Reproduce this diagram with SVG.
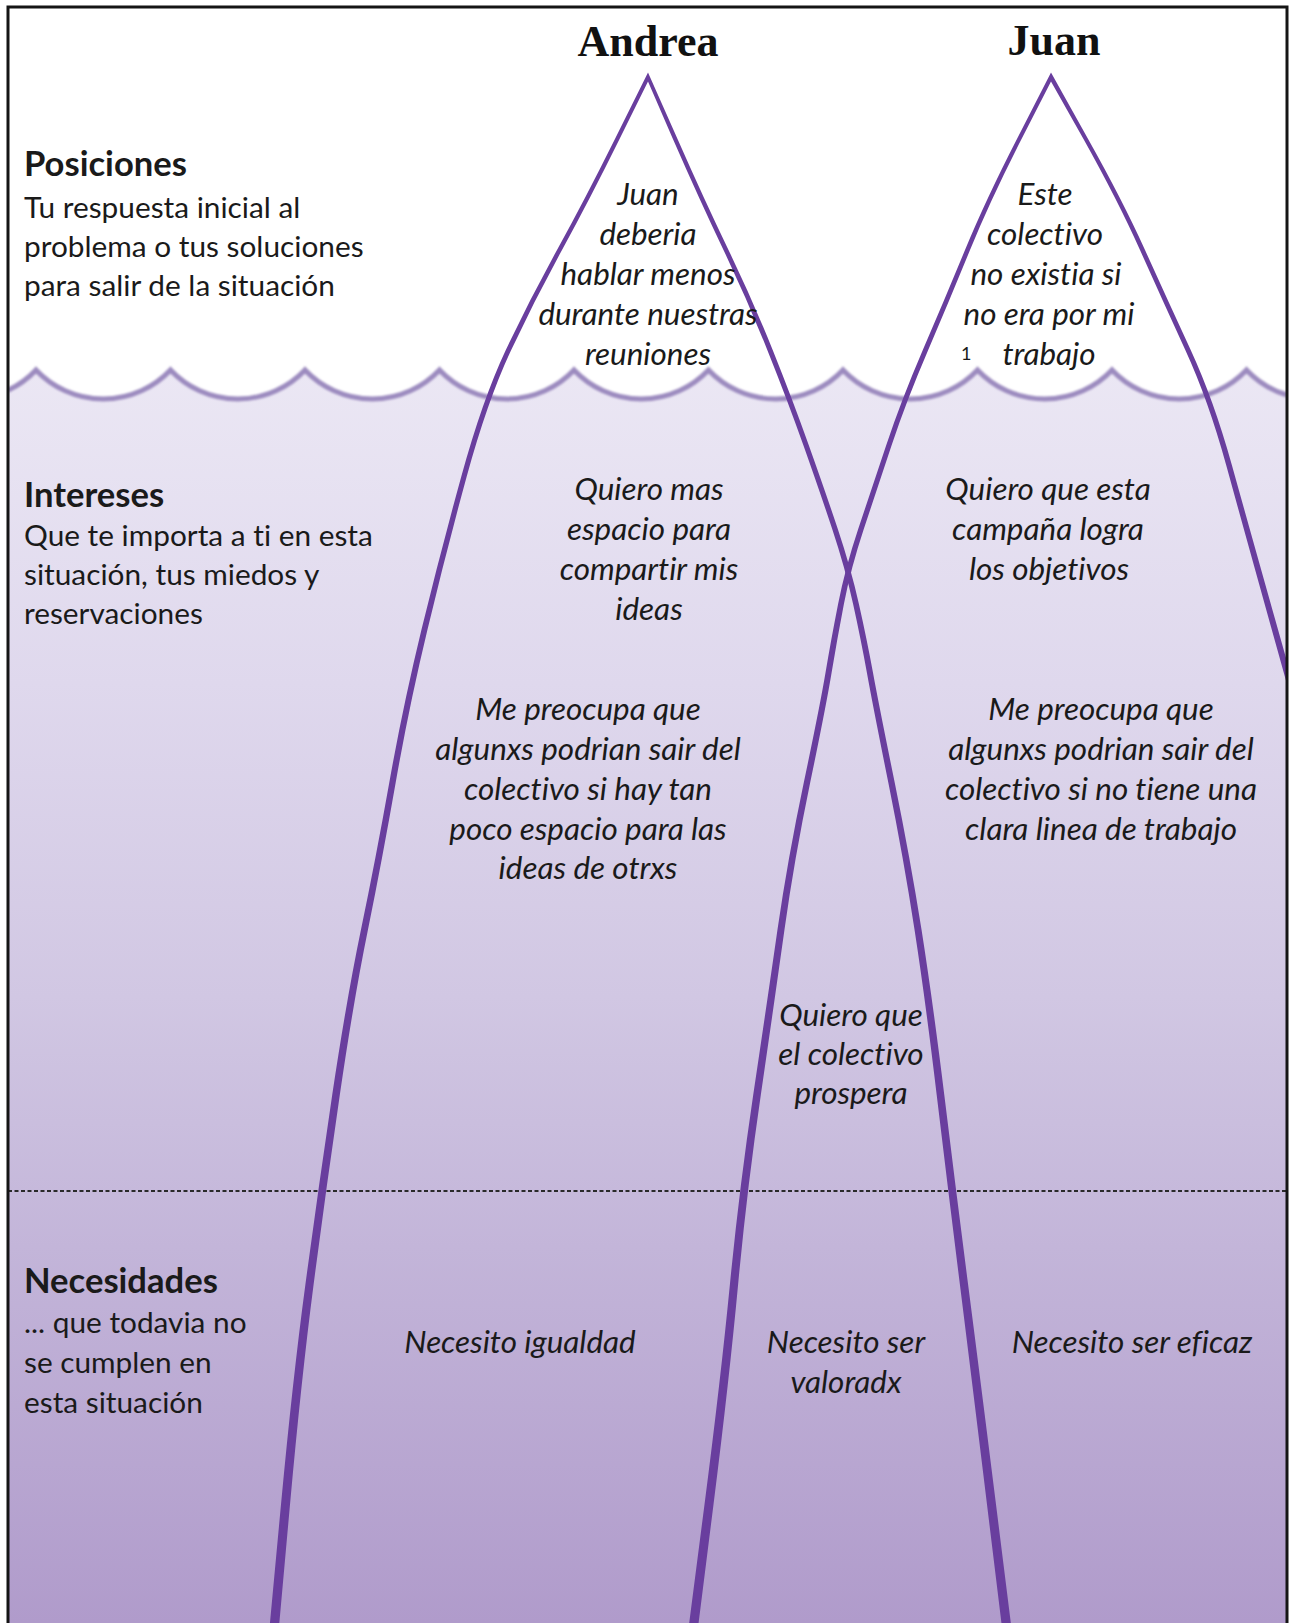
<svg xmlns="http://www.w3.org/2000/svg" width="1291" height="1623" viewBox="0 0 1291 1623">
  <style>
    text { font-variant-ligatures: none; font-feature-settings: "liga" 0, "dlig" 0; }
    .title { font-family: "Liberation Serif", "Times New Roman", serif; font-weight: bold; font-size: 44px; fill: #111; text-anchor: middle; }
    .head { font-family: Lato, "Open Sans", sans-serif; font-weight: bold; font-size: 34.6px; fill: #1a1a1a; }
    .body { font-family: Lato, "Open Sans", sans-serif; font-size: 29.8px; fill: #1a1a1a; }
    .it { font-family: Lato, "Open Sans", sans-serif; font-style: italic; font-size: 31.4px; fill: #1a1a1a; text-anchor: middle; }
    .ln { fill: #693e9e; stroke: none; }
    .wave { fill: none; stroke: #9c8bbf; stroke-width: 5; }
  </style>
  <defs>
    <linearGradient id="sea" x1="0" y1="370" x2="0" y2="1623" gradientUnits="userSpaceOnUse">
      <stop offset="0" stop-color="#ebe7f4"/>
      <stop offset="0.25" stop-color="#dfd8ed"/>
      <stop offset="0.5" stop-color="#d1c7e3"/>
      <stop offset="0.7" stop-color="#c3b5d9"/>
      <stop offset="1" stop-color="#b09bcb"/>
    </linearGradient>
    <clipPath id="frame">
      <rect x="8" y="7" width="1279" height="1620"/>
    </clipPath>
    <filter id="soft" x="-5%" y="-50%" width="110%" height="200%">
      <feGaussianBlur stdDeviation="0.9"/>
    </filter>
  </defs>

  <rect x="0" y="0" width="1291" height="1623" fill="#ffffff"/>

  <g id="sea-area" clip-path="url(#frame)">
    <path fill="url(#sea)" d="M8,390.3 A92.5,92.5 0 0 0 36,370 A92.5,92.5 0 0 0 170.5,370 A92.5,92.5 0 0 0 305,370 A92.5,92.5 0 0 0 439.5,370 A92.5,92.5 0 0 0 574,370 A92.5,92.5 0 0 0 708.5,370 A92.5,92.5 0 0 0 843,370 A92.5,92.5 0 0 0 977.5,370 A92.5,92.5 0 0 0 1112,370 A92.5,92.5 0 0 0 1246.5,370 A92.5,92.5 0 0 0 1287,395 L1287,1630 L8,1630 Z"/>
    <path class="wave" filter="url(#soft)" d="M8,390.3 A92.5,92.5 0 0 0 36,370 A92.5,92.5 0 0 0 170.5,370 A92.5,92.5 0 0 0 305,370 A92.5,92.5 0 0 0 439.5,370 A92.5,92.5 0 0 0 574,370 A92.5,92.5 0 0 0 708.5,370 A92.5,92.5 0 0 0 843,370 A92.5,92.5 0 0 0 977.5,370 A92.5,92.5 0 0 0 1112,370 A92.5,92.5 0 0 0 1246.5,370 A92.5,92.5 0 0 0 1287,395"/>
    <line x1="8" y1="1191" x2="1287" y2="1191" stroke="#2a2a2a" stroke-width="1.8" stroke-dasharray="4 2.5"/>
  </g>

  <g id="connectors" clip-path="url(#frame)">
    <g id="andrea-iceberg">
      <path id="andrea-left" class="ln" d="M648,72.5 L615.2,138.5 Q584.6,200 557,250 Q529.4,300 505.8,350 Q482.3,400 461.3,476.5 Q440.2,553 421.5,629.5 Q402.9,706 389.3,782.5 Q375.7,859 361,929.5 Q346.4,1000 332.2,1095 Q318.1,1190 305.4,1284.5 Q292.7,1379 281,1504.5 L269.3,1630 L278.7,1630 L290,1504.5 Q301.3,1379 313.6,1284.5 Q325.9,1190 339.8,1095 Q353.6,1000 368,929.5 Q382.3,859 395.7,782.5 Q409.1,706 427.5,629.5 Q445.8,553 466.7,476.5 Q487.7,400 511.2,350 Q534.6,300 562,250 Q589.4,200 619.8,138.5 L648,81.5 Z"/>
      <path id="andrea-right" class="ln" d="M648,81.5 L672.7,138.5 Q699.6,200 723.5,250 Q747.4,300 767.3,350 Q787.3,400 803.3,445 Q819.25,490 832.2,529 Q845.15,568 853.1,604 Q861,640 866.95,673 Q872.9,706 888.3,782.5 Q903.7,859 914.5,929.5 Q925.4,1000 936.7,1095 Q948.1,1190 959.9,1284.5 Q971.7,1379 987,1504.5 L1002.3,1630 L1011.7,1630 L996,1504.5 Q980.3,1379 968.1,1284.5 Q955.9,1190 944.3,1095 Q932.6,1000 921.5,929.5 Q910.3,859 894.7,782.5 Q879.1,706 873.05,673 Q867,640 858.9,604 Q850.85,568 837.8,529 Q824.75,490 808.7,445 Q792.7,400 772.7,350 Q752.6,300 728.5,250 Q704.4,200 677.3,138.5 L648,72.5 Z"/>
    </g>
    <g id="juan-iceberg">
      <path id="juan-left" class="ln" d="M1051,72.5 L1017.2,138.5 Q985.6,200 965,250 Q944.4,300 922.8,350 Q901.3,400 886.3,445 Q871.25,490 858.2,529 Q845.15,568 838.1,604 Q831,640 825.45,673 Q819.9,706 803.8,782.5 Q787.7,859 777.5,929.5 Q767.4,1000 753.2,1095 Q739.1,1190 729.9,1284.5 Q720.7,1379 704.5,1504.5 L688.3,1630 L697.7,1630 L713.5,1504.5 Q729.3,1379 738.1,1284.5 Q746.9,1190 760.8,1095 Q774.6,1000 784.5,929.5 Q794.3,859 810.2,782.5 Q826.1,706 831.55,673 Q837,640 843.9,604 Q850.85,568 863.8,529 Q876.75,490 891.7,445 Q906.7,400 928.2,350 Q949.6,300 970,250 Q990.4,200 1021.8,138.5 L1051,81.5 Z"/>
      <path id="juan-right" class="ln" d="M1051,81.5 L1083.2,138.5 Q1117.6,200 1140,250 Q1162.4,300 1185.3,350 Q1208.25,400 1226.15,465 Q1244.05,530 1268.4,617.5 L1292.75,705 L1299.25,705 L1274.6,617.5 Q1249.95,530 1231.85,465 Q1213.75,400 1190.7,350 Q1167.6,300 1145,250 Q1122.4,200 1087.8,138.5 L1051,72.5 Z"/>
    </g>
  </g>

  <g id="title-andrea"><text class="title" x="648" y="56">Andrea</text></g>
  <g id="title-juan"><text class="title" x="1054" y="55">Juan</text></g>

  <g id="label-posiciones">
    <text class="head" x="24" y="176">Posiciones</text>
    <text class="body" x="24" y="218">Tu respuesta inicial al</text>
    <text class="body" x="24" y="257">problema o tus soluciones</text>
    <text class="body" x="24" y="296">para salir de la situación</text>
  </g>
  <g id="label-intereses">
    <text class="head" x="24" y="507">Intereses</text>
    <text class="body" x="24" y="546">Que te importa a ti en esta</text>
    <text class="body" x="24" y="585">situación, tus miedos y</text>
    <text class="body" x="24" y="624">reservaciones</text>
  </g>
  <g id="label-necesidades">
    <text class="head" x="24" y="1293">Necesidades</text>
    <text class="body" x="24" y="1333">... que todavia no</text>
    <text class="body" x="24" y="1373">se cumplen en</text>
    <text class="body" x="24" y="1413">esta situación</text>
  </g>

  <g id="andrea-posicion">
    <text class="it" x="648" y="205">Juan</text>
    <text class="it" x="648" y="245">deberia</text>
    <text class="it" x="648" y="285">hablar menos</text>
    <text class="it" x="648" y="325">durante nuestras</text>
    <text class="it" x="648" y="365">reuniones</text>
  </g>
  <g id="juan-posicion">
    <text class="it" x="1045" y="205">Este</text>
    <text class="it" x="1045" y="245">colectivo</text>
    <text class="it" x="1046" y="285">no existia si</text>
    <text class="it" x="1049" y="325">no era por mi</text>
    <text class="it" x="1049" y="365">trabajo</text>
    <text x="961" y="360" font-family="Lato, sans-serif" font-size="18" fill="#1a1a1a">1</text>
  </g>

  <g id="andrea-interes-1">
    <text class="it" x="649" y="500">Quiero mas</text>
    <text class="it" x="649" y="540">espacio para</text>
    <text class="it" x="649" y="580">compartir mis</text>
    <text class="it" x="649" y="620">ideas</text>
  </g>
  <g id="juan-interes-1">
    <text class="it" x="1048" y="500">Quiero que esta</text>
    <text class="it" x="1048" y="540">campaña logra</text>
    <text class="it" x="1049" y="580">los objetivos</text>
  </g>
  <g id="andrea-interes-2">
    <text class="it" x="588" y="720">Me preocupa que</text>
    <text class="it" x="588" y="760">algunxs podrian sair del</text>
    <text class="it" x="588" y="800">colectivo si hay tan</text>
    <text class="it" x="588" y="840">poco espacio para las</text>
    <text class="it" x="588" y="879">ideas de otrxs</text>
  </g>
  <g id="juan-interes-2">
    <text class="it" x="1101" y="720">Me preocupa que</text>
    <text class="it" x="1101" y="760">algunxs podrian sair del</text>
    <text class="it" x="1101" y="800">colectivo si no tiene una</text>
    <text class="it" x="1101" y="840">clara linea de trabajo</text>
  </g>
  <g id="comun-interes">
    <text class="it" x="851" y="1026">Quiero que</text>
    <text class="it" x="851" y="1065">el colectivo</text>
    <text class="it" x="851" y="1104">prospera</text>
  </g>

  <g id="andrea-necesidad">
    <text class="it" x="520" y="1353">Necesito igualdad</text>
  </g>
  <g id="comun-necesidad">
    <text class="it" x="846" y="1353">Necesito ser</text>
    <text class="it" x="846" y="1393">valoradx</text>
  </g>
  <g id="juan-necesidad">
    <text class="it" x="1132" y="1353">Necesito ser eficaz</text>
  </g>

  <rect x="8" y="7" width="1279" height="1640" fill="none" stroke="#151515" stroke-width="3"/>
</svg>
